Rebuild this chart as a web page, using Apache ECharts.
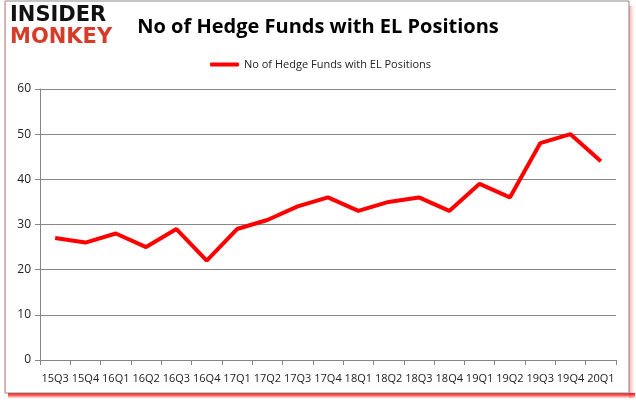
<!DOCTYPE html>
<html><head><meta charset="utf-8">
<script src="https://cdn.jsdelivr.net/npm/echarts@6/dist/echarts.min.js"></script>
<style>html,body{margin:0;padding:0;background:#fff}#c{width:636px;height:405px}</style>
</head><body><div id="c"></div>
<script>
const categories = ['15Q3','15Q4','16Q1','16Q2','16Q3','16Q4','17Q1','17Q2','17Q3','17Q4','18Q1','18Q2','18Q3','18Q4','19Q1','19Q2','19Q3','19Q4','20Q1'];
const hedgeFunds = [27,26,28,25,29,22,29,31,34,36,33,35,36,33,39,36,48,50,44];
const yTicks = [0,10,20,30,40,50,60];
const seriesName = 'No of Hedge Funds with EL Positions';

const chart = echarts.init(document.getElementById('c'), null, {renderer:'canvas'});
chart.setOption({
  animation:false,
  backgroundColor:'#fff',
  title:{text:seriesName,left:'center',top:12,textStyle:{fontFamily:'Open Sans',fontWeight:'bold',fontSize:20,color:'#000'}},
  legend:{top:54,left:205,itemWidth:29,itemHeight:4,itemGap:2,icon:'roundRect',
    textStyle:{fontFamily:'Open Sans',fontSize:11,color:'#222'},data:[seriesName]},
  grid:{left:40,top:89,right:20,bottom:45,containLabel:false},
  xAxis:{type:'category',data:categories,boundaryGap:true,
    axisLine:{lineStyle:{color:'#868686',width:1}},
    axisTick:{show:true,length:5,lineStyle:{color:'#868686'}},
    axisLabel:{fontFamily:'Open Sans',fontSize:11,color:'#222',margin:13,interval:0}},
  yAxis:{type:'value',min:yTicks[0],max:yTicks[yTicks.length-1],interval:10,
    axisLine:{show:true,lineStyle:{color:'#868686'}},
    axisTick:{show:true,length:5,lineStyle:{color:'#868686'}},
    splitLine:{lineStyle:{color:'#868686',width:1}},
    axisLabel:{fontFamily:'Open Sans',fontSize:12,color:'#222',margin:9}},
  graphic:[
    {type:'rect',shape:{x:629,y:6,width:6,height:392},z:-2,
      style:{fill:new echarts.graphic.LinearGradient(0,0,1,0,[{offset:0,color:'rgba(255,120,120,0.7)'},{offset:1,color:'rgba(255,200,200,0)'}])}},
    {type:'rect',shape:{x:8,y:393,width:627,height:6},z:-2,
      style:{fill:new echarts.graphic.LinearGradient(0,0,0,1,[{offset:0,color:'rgba(255,0,0,1)'},{offset:0.5,color:'rgba(255,60,60,0.7)'},{offset:1,color:'rgba(255,180,180,0)'}])}},
    {type:'rect',shape:{x:5,y:1,width:624,height:392},style:{fill:'#fff',stroke:'#8a8a8a',lineWidth:1},z:-1},
    {type:'line',shape:{x1:5.5,y1:1,x2:5.5,y2:393},style:{stroke:'#f0a0a0',lineWidth:1},z:-1},
    {type:'text',left:10,top:5,style:{text:'INSIDER',fontFamily:'DejaVu Sans',fontWeight:'bold',fontSize:21,fill:'#111'}},
    {type:'text',left:10,top:27,style:{text:'MONKEY',fontFamily:'DejaVu Sans',fontWeight:'bold',fontSize:21,fill:'#d63c2a'}}
  ],
  series:[{name:seriesName,type:'line',data:hedgeFunds,symbol:'none',
    lineStyle:{color:'#ff0000',width:4},itemStyle:{color:'#ff0000'}}]
});
</script></body></html>
